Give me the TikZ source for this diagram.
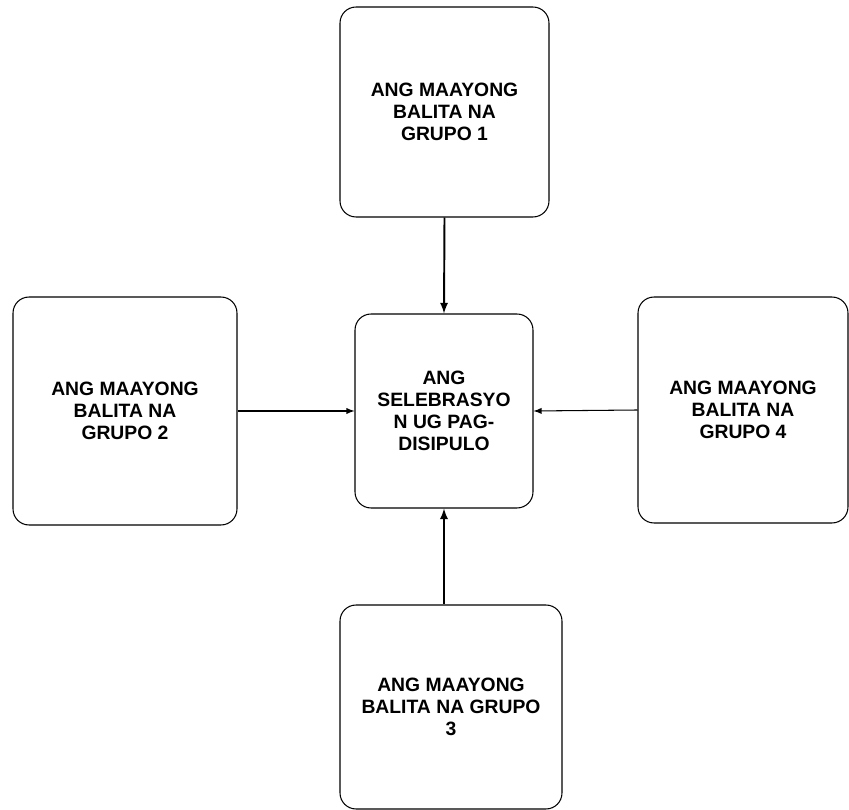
\documentclass[tikz,border=0pt]{standalone}
\usepackage{fontspec}
\setmainfont{Liberation Sans}
\tikzset{>=latex}
\usetikzlibrary{arrows.meta}

\begin{document}
\begin{tikzpicture}[x=0.02cm, y=-0.02cm]
            \tikzset{box/.style = {draw, rounded corners=0.32cm, line width=0.6pt, align=center, font=\bfseries\fontsize{11}{12.4}\selectfont}}
            \tikzset{link/.style = {->, line width=0.6pt}}
            \tikzset{thicklink/.style = {->, line width=1.1pt}}
            \useasboundingbox (0, 0) rectangle (849, 810);
            \node[box, minimum width=3.56cm, minimum height=3.88cm] (center) at (444, 411) {ANG\\SELEBRASYO\\N UG PAG-\\DISIPULO};
            \node[box, minimum width=4.18cm, minimum height=4.2cm] (group1) at (444.5, 112) {ANG MAAYONG\\BALITA NA\\GRUPO 1};
            \node[box, minimum width=4.48cm, minimum height=4.56cm] (group2) at (125, 411) {ANG MAAYONG\\BALITA NA\\GRUPO 2};
            \node[box, minimum width=4.44cm, minimum height=4.08cm] (group3) at (451, 707) {ANG MAAYONG\\BALITA NA GRUPO\\3};
            \node[box, minimum width=4.2cm, minimum height=4.52cm] (group4) at (743, 410) {ANG MAAYONG\\BALITA NA\\GRUPO 4};
            \draw[thicklink] (group1.south) -- (center.north);
            \draw[link] (group2.east) -- (center.west);
            \draw[thicklink] (center |- group3.north) -- (center.south);
            \draw[link] (group4.west) -- (center.east);
        \end{tikzpicture}
\end{document}
